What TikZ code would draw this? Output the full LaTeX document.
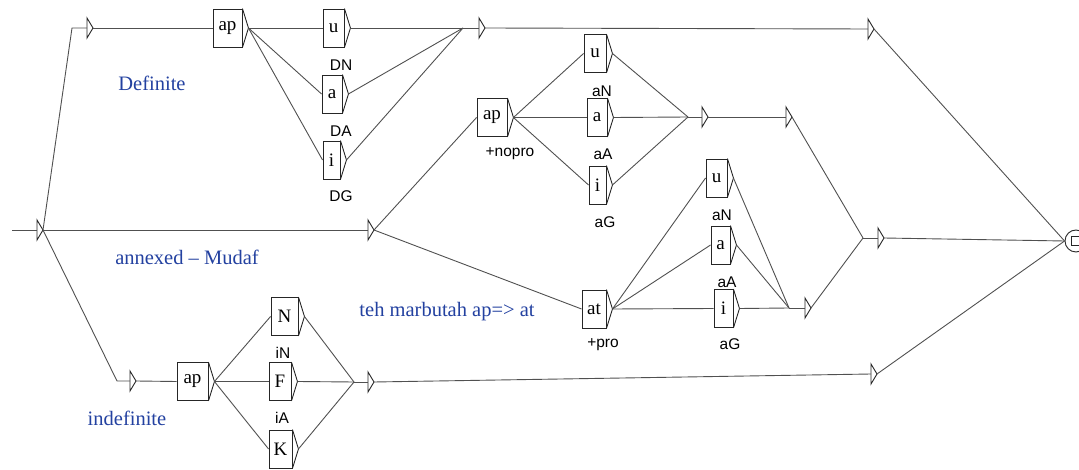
\documentclass[tikz,border=0pt]{standalone}
\usepackage{fontspec}
\setmainfont{Liberation Serif}
\newfontfamily\lsans{Liberation Sans}
\definecolor{lblue}{RGB}{35,65,160}
\definecolor{lgray}{RGB}{80,80,80}
\tikzset{
  edge/.style={draw=lgray, line width=0.9pt},
  boxst/.style={draw=black!85, line width=0.9pt, minimum height=38pt, inner sep=0pt,
                font=\fontsize{19}{20}\selectfont, anchor=center},
  tri/.style={draw=black!85, line width=0.9pt},
  outlab/.style={font=\lsans\fontsize{15.5}{16}\selectfont, inner sep=0pt},
  comment/.style={font=\fontsize{20.5}{22}\selectfont, text=lblue, inner sep=0pt},
}
\newcommand\ubox[5]{%
  \node[boxst, minimum width=#4] (#1) at (#2,#3) {#5};
  \coordinate (#1t) at ([xshift=6pt]#1.east);
  \draw[tri] (#1.north east) -- (#1t) -- (#1.south east);
}
\newcommand\etri[3]{%
  \coordinate (#1) at (#2,#3);
  \coordinate (#1t) at ([xshift=6pt]#1);
  \draw[tri] ([yshift=10pt]#1) -- (#1t) -- ([yshift=-10pt]#1) -- cycle;
}
\begin{document}
\begin{tikzpicture}[x=1pt,y=-1pt]
\useasboundingbox (0,0) rectangle (1079,470);

% initial state
\coordinate (s0in) at (12,230);
\etri{s0}{37}{230}
\draw[edge] (s0in) -- (s0);

% final state
\node[draw=black!85, line width=0.9pt, circle, minimum size=22pt, inner sep=0pt] (fin) at (1076,241) {};
\draw[tri] (1071,236.5) rectangle (1082,245.5);

% ---- Definite branch
\coordinate (c1) at (72,28);
\etri{e1}{87}{28}
\ubox{ap1}{227.5}{28}{29pt}{ap}
\ubox{u1}{333.5}{28}{21pt}{u}
\ubox{a1}{332}{94}{20pt}{a}
\ubox{i1}{331.5}{160}{17pt}{i}
\node[outlab] (lDN) at (341,65) {DN};
\node[outlab] (lDA) at (341,131) {DA};
\node[outlab] (lDG) at (341,196) {DG};
\coordinate (j1) at (463,28);
\etri{e2}{479}{28}
\etri{e3}{868}{29}

\draw[edge] (s0t) -- (c1) -- (e1);
\draw[edge] (e1t) -- (ap1.west);
\draw[edge] (ap1t) -- (u1.west);
\draw[edge] (ap1t) -- (a1.west);
\draw[edge] (ap1t) -- (i1.west);
\draw[edge] (u1t) -- (j1);
\draw[edge] (a1t) -- (j1);
\draw[edge] (i1t) -- (j1);
\draw[edge] (j1) -- (e2);
\draw[edge] (e2t) -- (e3);
\draw[edge] (e3t) -- (fin.west);

% ---- annexed branch
\etri{e4}{368}{230}
\ubox{ap2}{492}{117.5}{30pt}{ap}
\node[outlab] (lnopro) at (510,154) {+nopro};
\ubox{u2}{595}{53.5}{22pt}{u}
\ubox{a2}{597}{117.5}{20pt}{a}
\ubox{i2}{597.5}{185}{17pt}{i}
\node[outlab] (laN2) at (602,91) {aN};
\node[outlab] (laA2) at (603,154) {aA};
\node[outlab] (laG2) at (605,222) {aG};
\coordinate (j2) at (688,117);
\etri{e5}{702}{117}
\etri{e6}{786}{117}
\coordinate (j3) at (863,238);
\etri{e7}{878}{238}

\draw[edge] (s0t) -- (e4);
\draw[edge] (e4t) -- (ap2.west);
\draw[edge] (ap2t) -- (u2.west);
\draw[edge] (ap2t) -- (a2.west);
\draw[edge] (ap2t) -- (i2.west);
\draw[edge] (u2t) -- (j2);
\draw[edge] (a2t) -- (j2);
\draw[edge] (i2t) -- (j2);
\draw[edge] (j2) -- (e5);
\draw[edge] (e5t) -- (e6);
\draw[edge] (e6t) -- (j3);
\draw[edge] (j3) -- (e7);
\draw[edge] (e7t) -- (fin.west);

% ---- teh marbutah
\ubox{at1}{594}{309}{24pt}{at}
\node[outlab] (lpro) at (603,345) {+pro};
\ubox{u3}{716.5}{178}{21pt}{u}
\ubox{a3}{720.5}{245}{19pt}{a}
\ubox{i3}{723.5}{308.5}{19pt}{i}
\node[outlab] (laN3) at (722,215) {aN};
\node[outlab] (laA3) at (727,282) {aA};
\node[outlab] (laG3) at (730,344) {aG};
\coordinate (j4) at (789,308);
\etri{e8}{805}{308}

\draw[edge] (e4t) -- (at1.west);
\draw[edge] (at1t) -- (u3.west);
\draw[edge] (at1t) -- (a3.west);
\draw[edge] (at1t) -- (i3.west);
\draw[edge] (u3t) -- (j4);
\draw[edge] (a3t) -- (j4);
\draw[edge] (i3t) -- (j4);
\draw[edge] (j4) -- (e8);
\draw[edge] (e8t) -- (j3);

% ---- indefinite branch
\coordinate (c2) at (117,381);
\etri{e9}{130}{381}
\ubox{ap3}{192.5}{381.5}{31pt}{ap}
\ubox{nN}{284.5}{316.5}{27pt}{N}
\ubox{nF}{280}{381.5}{22pt}{F}
\ubox{nK}{280.5}{449}{23pt}{K}
\node[outlab] (liN) at (283,353) {iN};
\node[outlab] (liA) at (282,418) {iA};
\coordinate (j5) at (354,382);
\etri{e10}{368}{382}
\etri{e11}{871}{374}

\draw[edge] (s0t) -- (c2) -- (e9);
\draw[edge] (e9t) -- (ap3.west);
\draw[edge] (ap3t) -- (nN.west);
\draw[edge] (ap3t) -- (nF.west);
\draw[edge] (ap3t) -- (nK.west);
\draw[edge] (nNt) -- (j5);
\draw[edge] (nFt) -- (j5);
\draw[edge] (nKt) -- (j5);
\draw[edge] (j5) -- (e10);
\draw[edge] (e10t) -- (e11);
\draw[edge] (e11t) -- (fin.west);

% ---- comments
\node[comment] (cdef) at (152,83) {Definite};
\node[comment] (cann) at (187,257) {annexed -- Mudaf};
\node[comment] (cteh) at (447,312) {teh marbutah ap=> at};
\node[comment] (cind) at (127,418) {indefinite};
\end{tikzpicture}
\end{document}
